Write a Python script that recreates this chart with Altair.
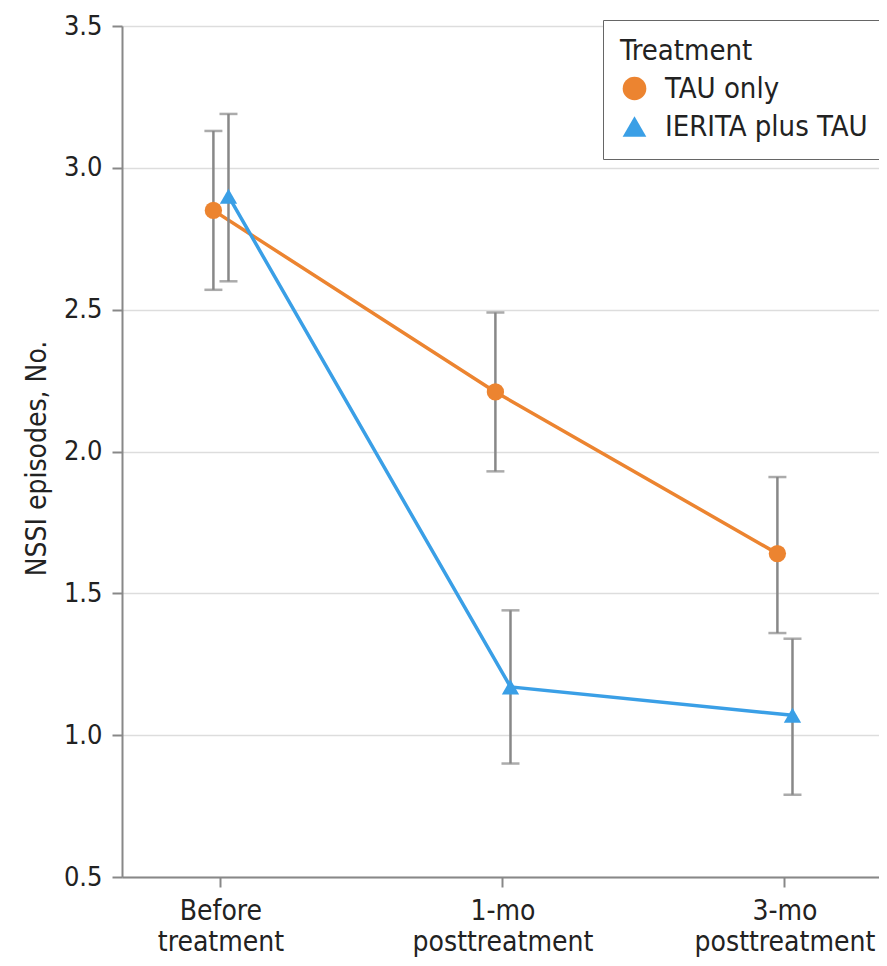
import altair as alt
import pandas as pd

phases = ["Before treatment", "1-mo posttreatment", "3-mo posttreatment"]
groups = ["TAU only", "IERITA plus TAU"]
tau_mean = [2.85, 2.21, 1.64]
tau_lo = [2.57, 1.93, 1.36]
tau_hi = [3.13, 2.49, 1.91]
ier_mean = [2.90, 1.17, 1.07]
ier_lo = [2.60, 0.90, 0.79]
ier_hi = [3.19, 1.44, 1.34]

rows = []
for i, p in enumerate(phases):
    rows.append({"phase": p, "group": groups[0], "mean": tau_mean[i], "lo": tau_lo[i], "hi": tau_hi[i]})
    rows.append({"phase": p, "group": groups[1], "mean": ier_mean[i], "lo": ier_lo[i], "hi": ier_hi[i]})
df = pd.DataFrame(rows)

FONT = "DejaVu Sans Condensed"
colors = ["#EC8430", "#3A9FE6"]

x = alt.X("phase:N", sort=phases, title=None,
          scale=alt.Scale(paddingInner=0.893, paddingOuter=0.2887, align=0.515),
          axis=alt.Axis(labelExpr="split(datum.label, ' ')", labelAngle=0,
                        labelFontSize=28, labelColor="#222", labelFont=FONT,
                        labelLimit=0,
                        tickSize=10, tickColor="#888", tickWidth=2,
                        domainColor="#888", domainWidth=2, labelPadding=10,
                        labelLineHeight=31, grid=False))
xo = alt.XOffset("group:N", sort=groups)
y = alt.Y("mean:Q", title="NSSI episodes, No.",
          scale=alt.Scale(domain=[0.5, 3.5], nice=False, zero=False),
          axis=alt.Axis(values=[0.5, 1.0, 1.5, 2.0, 2.5, 3.0, 3.5], format=".1f",
                        labelFontSize=27, labelColor="#222", labelFont=FONT,
                        titleFontSize=28, titleFont=FONT, titleFontWeight="normal",
                        titleColor="#222", titleX=-77, titleY=432,
                        titleBaseline="alphabetic", titleAlign="center", titleAngle=270,
                        tickSize=10, tickColor="#888", tickWidth=2,
                        domainColor="#888", domainWidth=2, labelPadding=10,
                        gridColor="#dddddd", gridWidth=1.5))
color = alt.Color("group:N", sort=groups,
                  scale=alt.Scale(domain=groups, range=colors),
                  legend=alt.Legend(title="Treatment", orient="none",
                                    legendX=481, legendY=-6,
                                    strokeColor="#666", fillColor="white", padding=17,
                                    titleFontSize=29, labelFontSize=29, titleFont=FONT,
                                    labelFont=FONT, titleFontWeight="normal",
                                    titleColor="#222", labelColor="#222",
                                    symbolSize=560, symbolStrokeWidth=0,
                                    labelOffset=16, labelLimit=0, rowPadding=8,
                                    titlePadding=8))
shape = alt.Shape("group:N", sort=groups,
                  scale=alt.Scale(domain=groups, range=["circle", "triangle-up"]),
                  legend=alt.Legend(title="Treatment"))

base = alt.Chart(df)
lines = base.mark_line(strokeWidth=3.5).encode(x=x, xOffset=xo, y=y, color=color)
rules = base.mark_rule(color="#888", strokeWidth=2.5).encode(
    x=x, xOffset=xo, y=alt.Y("lo:Q"), y2="hi:Q")
cap_lo = base.mark_tick(color="#888", thickness=2.5, size=18).encode(
    x=x, xOffset=xo, y=alt.Y("lo:Q"))
cap_hi = base.mark_tick(color="#888", thickness=2.5, size=18).encode(
    x=x, xOffset=xo, y=alt.Y("hi:Q"))
points = base.mark_point(filled=True, opacity=1, size=300).encode(
    x=x, xOffset=xo, y=y, color=color, shape=shape)

chart = alt.layer(lines, rules, cap_lo, cap_hi, points).properties(
    width=757, height=851,
    autosize=alt.AutoSizeParams(type="none"),
    padding={"left": 114, "top": 18, "right": 0, "bottom": 81}
).configure_view(stroke=None).configure(background="white")

chart.save("out.html", embed_options={"renderer": "svg", "actions": False})
